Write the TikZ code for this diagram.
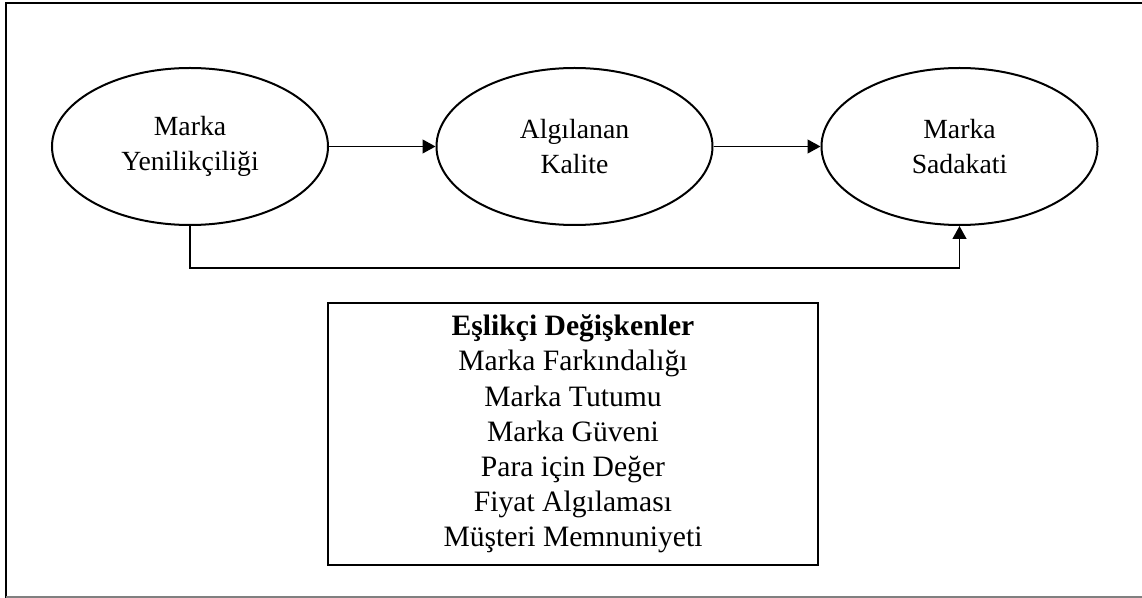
\documentclass[tikz,border=0pt]{standalone}
\usepackage{fontspec}
\setmainfont{Liberation Serif}
\usetikzlibrary{shapes.geometric,arrows.meta}

\tikzset{
  construct/.style={ellipse, draw, line width=1.5pt, inner sep=0pt,
    minimum width=207pt, minimum height=117.75pt, align=center,
    font=\fontsize{20.8}{26.25}\selectfont},
  panel/.style={rectangle, draw, line width=1.4pt, inner sep=0pt,
    minimum width=367.5pt, minimum height=196.5pt, align=center,
    font=\fontsize{22.2}{26.4}\selectfont},
  link/.style={line width=0.9pt, -{Triangle[length=9.75pt,width=10.5pt]}},
  frame/.style={line width=2pt, line cap=rect}
}

\begin{document}
\begin{tikzpicture}[x=0.75pt,y=-0.75pt]
  % canvas
  \useasboundingbox (0,0) rectangle (1142,598);
  \fill[white] (0,0) rectangle (1142,598);

  % outer frame (open on the right)
  \draw[frame] (1142,3) -- (6,3) -- (6,597);
  \draw[line width=0.9pt, gray] (6,597) -- (1142,597);

  % model constructs
  \node[construct] (inno) at (190,146.5) {Marka\\Yenilikçiliği};
  \node[construct] (qual) at (574.5,146.5) {Algılanan\\Kalite};
  \node[construct] (loyal) at (959.5,146.5) {Marka\\Sadakati};

  % paths
  \draw[link] (inno.east) -- (qual.west);
  \draw[link] (qual.east) -- (loyal.west);
  \coordinate (c1) at (inno.south |- 0,268);
  \coordinate (c2) at (loyal.south |- 0,268);
  \draw[link] (inno.south) -- (c1) -- (c2) -- (loyal.south);

  % control variables
  \node[panel] (ctrl) at (573,434) {\textbf{Eşlikçi Değişkenler}\\
    Marka Farkındalığı\\
    Marka Tutumu\\
    Marka Güveni\\
    Para için Değer\\
    Fiyat Algılaması\\
    Müşteri Memnuniyeti};
\end{tikzpicture}
\end{document}
